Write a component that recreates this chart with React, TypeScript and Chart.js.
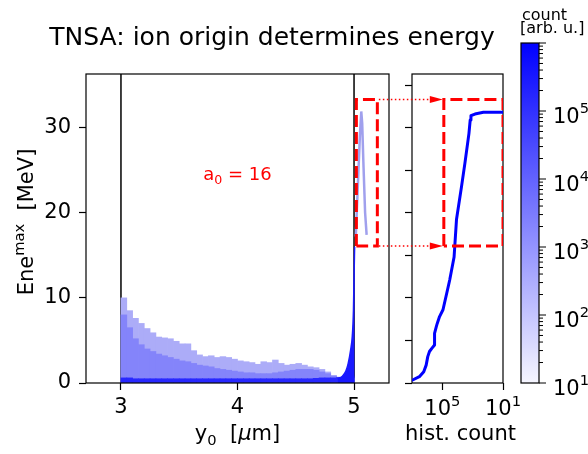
import React, { useEffect, useRef } from "react";
import { Chart, registerables } from "chart.js";

Chart.register(...registerables);

const FONT = "'DejaVu Sans', 'Liberation Sans', sans-serif";
const W = 588;
const H = 454;

// ---------------- axes ----------------
const Y0_MIN = 2.7;
const Y0_MAX = 5.3;
const E_MIN = 0;
const E_MAX = 36.3;
const mainXTicks = [3, 4, 5];
const mainYTicks = [0, 10, 20, 30];
const HIST_MIN = 1e4;
const HIST_MAX = 1e7;
const histXTicks = [1e5, 1e7];
const histXTickBase = ["10", "10"];
const histXTickExp = ["5", "1"];
const histYTicks = [0, 5, 10, 15, 20, 25, 30, 35];
const CB_MIN = 1e1;
const CB_MAX = 1e6;
const cbMajorTicks = [1e1, 1e2, 1e3, 1e4, 1e5, 1e6];
const cbLabelValues = [1e1, 1e2, 1e3, 1e4, 1e5];
const cbLabelExp = ["1", "2", "3", "4", "5"];

// ---------------- text ----------------
const TITLE = "TNSA: ion origin determines energy";
const CB_TITLE = ["count", "[arb. u.]"];

// ---------------- data ----------------
const targetEdges = [3, 5];

const binCenters = [
  3.025, 3.075, 3.125, 3.175, 3.225, 3.275, 3.325, 3.375, 3.425, 3.475,
  3.525, 3.575, 3.625, 3.675, 3.725, 3.775, 3.825, 3.875, 3.925, 3.975,
  4.025, 4.075, 4.125, 4.175, 4.225, 4.275, 4.325, 4.375, 4.425, 4.475,
  4.525, 4.575, 4.625, 4.675, 4.725, 4.775, 4.825, 4.875, 4.925, 4.975,
];
// upper edge of the faint (low count) part of the cloud [MeV]
const cloudOuterTop = [
  10.0, 8.5, 7.6, 7.0, 6.4, 5.9, 5.4, 5.3, 5.2, 4.9,
  4.6, 4.6, 3.8, 3.3, 3.1, 3.2, 3.0, 3.1, 3.0, 2.8,
  2.6, 2.5, 2.4, 2.2, 2.5, 2.4, 2.7, 2.3, 2.1, 2.2,
  2.3, 2.1, 1.9, 1.8, 1.6, 1.3, 0.9, 0.7, 0.6, 0.6,
];
// upper edge of the denser part of the cloud [MeV]
const cloudMidTop = [
  8.0, 6.5, 5.2, 4.5, 4.0, 3.7, 3.4, 3.2, 3.0, 2.8,
  2.6, 2.5, 2.3, 2.1, 2.0, 1.9, 1.7, 1.6, 1.5, 1.4,
  1.3, 1.2, 1.2, 1.1, 1.1, 1.1, 1.2, 1.3, 1.4, 1.5,
  1.6, 1.6, 1.6, 1.5, 1.3, 1.1, 0.8, 0.6, 0.5, 0.5,
];
// upper edge of the high-count band at low energy [MeV]
const bandTop = [
  0.6, 0.6, 0.5, 0.5, 0.5, 0.5, 0.5, 0.5, 0.5, 0.5,
  0.5, 0.5, 0.5, 0.5, 0.5, 0.5, 0.5, 0.5, 0.5, 0.5,
  0.5, 0.5, 0.5, 0.5, 0.5, 0.5, 0.5, 0.5, 0.5, 0.5,
  0.5, 0.5, 0.5, 0.55, 0.6, 0.6, 0.6, 0.65, 0.7, 0.8,
];
// steep high-count edge at the rear surface
const riseY0 = [4.86, 4.9, 4.93, 4.95, 4.97, 4.985, 4.995, 5.0, 5.005];
const riseE = [0.5, 0.8, 1.4, 2.3, 3.8, 5.5, 8.5, 12.5, 16.0];
// faint high-energy streak behind the target
const spikeY0 = [5.015, 5.035, 5.05, 5.062, 5.07, 5.08, 5.095, 5.108];
const spikeE = [17.2, 24.0, 29.0, 31.9, 30.5, 26.0, 20.0, 17.4];

// energy histogram
const histCount = [
  1.05e4, 1.75e4, 2.44e4, 2.93e4, 3.31e4, 3.77e4, 4.5e4, 5.54e4, 5.54e4,
  6.3e4, 6.8e4, 8.1e4, 1.05e5, 1.47e5, 1.75e5, 2.44e5, 2.93e5, 4.3e5,
  5.54e5, 7.53e5, 8.3e5, 8.78e5, 1.19e6, 2.26e6, 1e7,
];
const histE = [
  0.35, 0.74, 1.33, 2.1, 3.1, 3.7, 4.07, 4.47, 5.84,
  6.6, 7.0, 7.8, 8.6, 10.9, 12.1, 14.8, 19.2, 23.1,
  25.8, 29.3, 30.9, 31.4, 31.6, 31.8, 31.8,
];

// zoom box
const zoomE = [16.1, 33.3];
const zoomY0 = [5.02, 5.2];
const zoomCount = [1.12e5, 1e7];

const a0Pos = { y0: 4.0, e: 24.6 };

// ---------------- colours ----------------
const CMAP_LOW = "rgb(246,246,255)";
const CMAP_HIGH = "rgb(0,0,255)";
const C_OUTER = "rgb(172,172,248)";
const C_MID = "rgb(132,132,250)";
const C_BAND = "rgb(40,40,255)";
const C_RISE = "rgb(25,25,255)";
const C_SPIKE = "rgba(150,150,235,0.9)";
const RED = "#ff0000";

// ---------------- helpers ----------------
type Seg = { t: string; s?: number; dy?: number; italic?: boolean };

function segFont(size: number, italic?: boolean) {
  return `${italic ? "italic " : ""}${size}px ${FONT}`;
}
function measureSegs(ctx: CanvasRenderingContext2D, segs: Seg[], size: number) {
  let w = 0;
  for (const g of segs) {
    ctx.font = segFont(size * (g.s ?? 1), g.italic);
    w += ctx.measureText(g.t).width;
  }
  return w;
}
function drawSegs(
  ctx: CanvasRenderingContext2D,
  segs: Seg[],
  x: number,
  y: number,
  size: number,
  align: "left" | "center" | "right",
  color: string
) {
  const w = measureSegs(ctx, segs, size);
  let cx = align === "left" ? x : align === "center" ? x - w / 2 : x - w;
  ctx.textAlign = "left";
  ctx.textBaseline = "alphabetic";
  ctx.fillStyle = color;
  for (const g of segs) {
    ctx.font = segFont(size * (g.s ?? 1), g.italic);
    ctx.fillText(g.t, cx, y - (g.dy ?? 0) * size);
    cx += ctx.measureText(g.t).width;
  }
}
function powSegs(base: string, exp: string): Seg[] {
  return [{ t: base }, { t: exp, s: 0.7, dy: 0.45 }];
}
function frame(chart: any, lw = 1.2) {
  const { ctx, chartArea: a } = chart;
  ctx.save();
  ctx.strokeStyle = "#000";
  ctx.lineWidth = lw;
  ctx.strokeRect(a.left, a.top, a.right - a.left, a.bottom - a.top);
  ctx.restore();
}
function rectPts(xs: number[], ys: number[]) {
  return [
    { x: xs[0], y: ys[0] },
    { x: xs[0], y: ys[1] },
    { x: xs[1], y: ys[1] },
    { x: xs[1], y: ys[0] },
    { x: xs[0], y: ys[0] },
  ];
}

const tickGrid = {
  display: true,
  drawOnChartArea: false,
  drawTicks: true,
  tickLength: 7,
  tickWidth: 1.2,
  tickColor: "#000",
  offset: false,
};

const baseOptions = {
  responsive: false,
  animation: false as const,
  events: [] as any[],
  plugins: {
    legend: { display: false },
    tooltip: { enabled: false },
    title: { display: false },
  },
};

function mainConfig(): any {
  const bars = (tops: number[], color: string, order: number) => ({
    type: "bar",
    data: binCenters.map((x, i) => ({ x, y: [0, tops[i]] })),
    backgroundColor: color,
    borderWidth: 0,
    grouped: false,
    barPercentage: 1,
    categoryPercentage: 1,
    order,
  });
  return {
    type: "bar",
    data: {
      datasets: [
        {
          type: "line",
          data: rectPts(zoomY0, zoomE),
          borderColor: RED,
          borderWidth: 3,
          borderDash: [12, 5],
          pointRadius: 0,
          fill: false,
          order: 0,
        },
        {
          type: "line",
          data: spikeY0.map((x, i) => ({ x, y: spikeE[i] })),
          borderColor: C_SPIKE,
          borderWidth: 2.5,
          pointRadius: 0,
          fill: false,
          order: 1,
        },
        {
          type: "line",
          data: riseY0.map((x, i) => ({ x, y: riseE[i] })),
          borderColor: C_RISE,
          backgroundColor: C_RISE,
          borderWidth: 1.5,
          pointRadius: 0,
          fill: "origin",
          cubicInterpolationMode: "monotone",
          order: 2,
        },
        bars(bandTop, C_BAND, 3),
        bars(cloudMidTop, C_MID, 4),
        bars(cloudOuterTop, C_OUTER, 5),
        ...targetEdges.map((x) => ({
          type: "line",
          data: [
            { x, y: E_MIN },
            { x, y: E_MAX },
          ],
          borderColor: "#000",
          borderWidth: 1.5,
          pointRadius: 0,
          fill: false,
          order: 6,
        })),
      ],
    },
    options: {
      ...baseOptions,
      layout: { padding: { left: 0, top: 74, right: W - 389, bottom: H - 383 - 30 } },
      scales: {
        x: {
          type: "linear",
          min: Y0_MIN,
          max: Y0_MAX,
          offset: false,
          afterBuildTicks: (s: any) => {
            s.ticks = mainXTicks.map((v) => ({ value: v }));
          },
          afterFit: (s: any) => {
            s.height = 30;
          },
          grid: tickGrid,
          border: { display: false },
          ticks: {
            font: { family: FONT, size: 21 },
            color: "#000",
            padding: 5,
            maxRotation: 0,
            autoSkip: false,
          },
        },
        y: {
          type: "linear",
          min: E_MIN,
          max: E_MAX,
          afterBuildTicks: (s: any) => {
            s.ticks = mainYTicks.map((v) => ({ value: v }));
          },
          afterFit: (s: any) => {
            s.width = 86;
          },
          grid: tickGrid,
          border: { display: false },
          ticks: {
            font: { family: FONT, size: 21 },
            color: "#000",
            padding: 8,
            autoSkip: false,
          },
        },
      },
    },
    plugins: [
      {
        id: "mainDecor",
        afterDatasetsDraw(chart: any) {
          frame(chart);
        },
        afterDraw(chart: any) {
          const ctx: CanvasRenderingContext2D = chart.ctx;
          const a = chart.chartArea;
          ctx.save();
          // title
          drawSegs(ctx, [{ t: TITLE }], 272, 45, 25, "center", "#000");
          // x label
          drawSegs(
            ctx,
            [{ t: "y" }, { t: "0", s: 0.7, dy: -0.22 }, { t: "  [" }, { t: "\u03bc", italic: true }, { t: "m]" }],
            (a.left + a.right) / 2,
            440,
            21,
            "center",
            "#000"
          );
          // y label
          ctx.save();
          ctx.translate(33, 222);
          ctx.rotate(-Math.PI / 2);
          drawSegs(ctx, [{ t: "Ene" }, { t: "max", s: 0.7, dy: 0.45 }, { t: "  [MeV]" }], 0, 0, 21, "center", "#000");
          ctx.restore();
          // a0 annotation
          const px = chart.scales.x.getPixelForValue(a0Pos.y0);
          const py = chart.scales.y.getPixelForValue(a0Pos.e);
          drawSegs(ctx, [{ t: "a" }, { t: "0", s: 0.7, dy: -0.22 }, { t: " = 16" }], px, py + 0.36 * 18, 18, "center", RED);
          ctx.restore();
        },
      },
    ],
  };
}

function histConfig(main: Chart): any {
  return {
    type: "line",
    data: {
      datasets: [
        {
          data: rectPts(zoomCount, zoomE),
          borderColor: RED,
          borderWidth: 3,
          borderDash: [12, 5],
          pointRadius: 0,
          fill: false,
          order: 0,
        },
        {
          data: histCount.map((c, i) => ({ x: c, y: histE[i] })),
          borderColor: "#0000ff",
          borderWidth: 3,
          pointRadius: 0,
          fill: false,
          borderJoinStyle: "round",
          borderCapStyle: "round",
          order: 1,
        },
      ],
    },
    options: {
      ...baseOptions,
      layout: { padding: { left: 412 - 10, top: 74, right: W - 503, bottom: H - 383 - 30 } },
      scales: {
        x: {
          type: "logarithmic",
          min: HIST_MIN,
          max: HIST_MAX,
          afterBuildTicks: (s: any) => {
            s.ticks = histXTicks.map((v) => ({ value: v }));
          },
          afterFit: (s: any) => {
            s.height = 30;
          },
          grid: tickGrid,
          border: { display: false },
          ticks: { display: false },
        },
        y: {
          type: "linear",
          min: E_MIN,
          max: E_MAX,
          afterBuildTicks: (s: any) => {
            s.ticks = histYTicks.map((v) => ({ value: v }));
          },
          afterFit: (s: any) => {
            s.width = 10;
          },
          grid: tickGrid,
          border: { display: false },
          ticks: { display: false },
        },
      },
    },
    plugins: [
      {
        id: "histDecor",
        beforeDatasetsDraw(chart: any) {
          frame(chart);
        },
        afterDraw(chart: any) {
          const ctx: CanvasRenderingContext2D = chart.ctx;
          const a = chart.chartArea;
          const xs = chart.scales.x;
          const ys = chart.scales.y;
          ctx.save();
          histXTicks.forEach((v, i) => {
            drawSegs(ctx, powSegs(histXTickBase[i], histXTickExp[i]), xs.getPixelForValue(v), 415, 21, "center", "#000");
          });
          drawSegs(ctx, [{ t: "hist. count" }], (a.left + a.right) / 2 + 3, 440, 21, "center", "#000");
          // dotted arrows from the zoom box in the main panel to the histogram box
          const x0 = main.scales.x.getPixelForValue(zoomY0[1]) + 1.5;
          const tip = xs.getPixelForValue(zoomCount[0]) - 1;
          const head = 13;
          zoomE.forEach((e) => {
            const y = ys.getPixelForValue(e);
            ctx.strokeStyle = RED;
            ctx.fillStyle = RED;
            ctx.lineWidth = 1.5;
            ctx.setLineDash([1.5, 2.5]);
            ctx.beginPath();
            ctx.moveTo(x0, y);
            ctx.lineTo(tip - head, y);
            ctx.stroke();
            ctx.setLineDash([]);
            ctx.beginPath();
            ctx.moveTo(tip, y);
            ctx.lineTo(tip - head, y - 3.5);
            ctx.lineTo(tip - head, y + 3.5);
            ctx.closePath();
            ctx.fill();
          });
          ctx.restore();
        },
      },
    ],
  };
}

function cbConfig(): any {
  return {
    type: "bar",
    data: {
      labels: ["count"],
      datasets: [
        {
          data: [[CB_MIN, CB_MAX]],
          backgroundColor: (c: any) => {
            const ch = c.chart;
            const a = ch.chartArea;
            if (!a) return CMAP_HIGH;
            const g = ch.ctx.createLinearGradient(0, a.bottom, 0, a.top);
            g.addColorStop(0, CMAP_LOW);
            g.addColorStop(1, CMAP_HIGH);
            return g;
          },
          borderWidth: 0,
          barPercentage: 1,
          categoryPercentage: 1,
        },
      ],
    },
    options: {
      ...baseOptions,
      layout: { padding: { left: 521, top: 43, right: W - 539, bottom: H - 383 } },
      scales: {
        x: { display: false, offset: true },
        y: { type: "logarithmic", display: false, min: CB_MIN, max: CB_MAX },
      },
    },
    plugins: [
      {
        id: "cbDecor",
        afterDraw(chart: any) {
          const ctx: CanvasRenderingContext2D = chart.ctx;
          const a = chart.chartArea;
          const ys = chart.scales.y;
          ctx.save();
          frame(chart);
          ctx.strokeStyle = "#000";
          ctx.lineWidth = 1;
          ctx.beginPath();
          cbMajorTicks.forEach((v) => {
            const y = ys.getPixelForValue(v);
            ctx.moveTo(a.right, y);
            ctx.lineTo(a.right + 7, y);
          });
          for (let e = 1; e < 6; e++) {
            for (let m = 2; m <= 9; m++) {
              const y = ys.getPixelForValue(m * Math.pow(10, e));
              ctx.moveTo(a.right, y);
              ctx.lineTo(a.right + 4, y);
            }
          }
          ctx.stroke();
          cbLabelValues.forEach((v, i) => {
            const y = ys.getPixelForValue(v);
            drawSegs(ctx, powSegs("10", cbLabelExp[i]), a.right + 14, y + 11.5, 21, "left", "#000");
          });
          drawSegs(ctx, [{ t: CB_TITLE[0] }], a.left + 1, 20, 16, "left", "#000");
          drawSegs(ctx, [{ t: CB_TITLE[1] }], a.left - 1, 33, 16, "left", "#000");
          ctx.restore();
        },
      },
    ],
  };
}

export default function App() {
  const mainRef = useRef<HTMLCanvasElement>(null);
  const histRef = useRef<HTMLCanvasElement>(null);
  const cbRef = useRef<HTMLCanvasElement>(null);

  useEffect(() => {
    const main = new Chart(mainRef.current as HTMLCanvasElement, mainConfig());
    const hist = new Chart(histRef.current as HTMLCanvasElement, histConfig(main));
    const cb = new Chart(cbRef.current as HTMLCanvasElement, cbConfig());
    return () => {
      main.destroy();
      hist.destroy();
      cb.destroy();
    };
  }, []);

  const st: React.CSSProperties = { position: "absolute", left: 0, top: 0, width: W, height: H };
  return (
    <div style={{ position: "fixed", left: 0, top: 0, width: W, height: H, background: "#fff" }}>
      <canvas ref={mainRef} width={W} height={H} style={st} />
      <canvas ref={histRef} width={W} height={H} style={st} />
      <canvas ref={cbRef} width={W} height={H} style={st} />
    </div>
  );
}
